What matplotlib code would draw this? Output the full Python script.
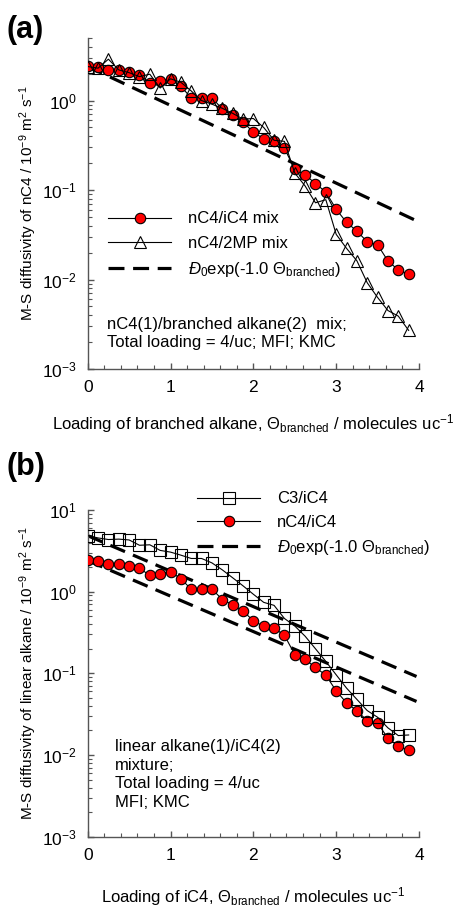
import numpy as np
import matplotlib
matplotlib.use('Agg')
import matplotlib.pyplot as plt
from matplotlib.ticker import LogLocator, NullFormatter, MultipleLocator, LogFormatterSciNotation

plt.rcParams['font.family'] = ['Liberation Sans', 'DejaVu Sans']
plt.rcParams['mathtext.fontset'] = 'custom'
plt.rcParams['mathtext.rm'] = 'Liberation Sans'
plt.rcParams['mathtext.it'] = 'Liberation Sans:italic'
plt.rcParams['mathtext.bf'] = 'Liberation Sans:bold'
plt.rcParams['axes.unicode_minus'] = False

# loading of branched alkane, molecules/uc
loading = [0.0, 0.125, 0.25, 0.375, 0.5, 0.625, 0.75, 0.875,
           1.0, 1.125, 1.25, 1.375, 1.5, 1.625, 1.75, 1.875,
           2.0, 2.125, 2.25, 2.375, 2.5, 2.625, 2.75, 2.875,
           3.0, 3.125, 3.25, 3.375, 3.5, 3.625, 3.75, 3.875]

# M-S diffusivity, 10^-9 m2/s
nC4_iC4 = [2.44, 2.35, 2.17, 2.18, 2.08, 1.94, 1.58, 1.66,
           1.76, 1.44, 1.07, 1.08, 1.08, 0.80, 0.69, 0.58,
           0.44, 0.376, 0.357, 0.293, 0.17, 0.148, 0.118, 0.095,
           0.061, 0.0435, 0.0348, 0.0264, 0.0245, 0.0161, 0.0128, 0.0114]
nC4_2MP = [2.4, 2.3, 2.9, 2.2, 2.05, 1.85, 1.97, 1.38,
           1.75, 1.6, 1.28, 1.0, 0.91, 0.82, 0.72, 0.62,
           0.63, 0.5, 0.36, 0.35, 0.155, 0.111, 0.072, 0.078,
           0.032, 0.0223, 0.0162, 0.0092, 0.0063, 0.0045, 0.0039, 0.0027]
C3_iC4 = [4.85, 4.55, 4.35, 4.4, 4.3, 3.7, 3.75, 3.2,
          3.05, 2.8, 2.55, 2.55, 2.25, 1.85, 1.48, 1.18,
          0.93, 0.74, 0.68, 0.47, 0.38, 0.285, 0.2, 0.14,
          0.096, 0.066, 0.048, 0.035, 0.029, 0.0215, 0.0173, 0.0176]

# zero-loading diffusivities for the exp(-1.0 theta) lines
D0_nC4 = 2.4
D0_C3 = 4.85
fit_x = np.array([0.0, 3.97])

dash_label = r'$\mathit{Đ}_{0}$exp(-1.0 Θ$_{\mathrm{branched}}$)'
ylab_units = r' / 10$^{-9}$ m$^{2}$ s$^{-1}$'
xlab_units = r'Θ$_{\mathrm{branched}}$ / molecules uc$^{-1}$'

fs = 12
spine_col = '#555555'


def style_axes(ax, ymin, ymax):
    ax.set_yscale('log')
    ax.set_xlim(0, 4)
    ax.set_ylim(ymin, ymax)
    for s in ['top', 'right']:
        ax.spines[s].set_visible(False)
    for s in ['left', 'bottom']:
        ax.spines[s].set_color(spine_col)
        ax.spines[s].set_linewidth(1.0)
    ax.xaxis.set_major_locator(MultipleLocator(1))
    ax.xaxis.set_minor_locator(MultipleLocator(0.2))
    ax.yaxis.set_major_locator(LogLocator(base=10))
    ax.yaxis.set_minor_locator(LogLocator(base=10, subs=np.arange(2, 10)))
    ax.yaxis.set_major_formatter(LogFormatterSciNotation())
    ax.yaxis.set_minor_formatter(NullFormatter())
    ax.tick_params(which='both', direction='in', color=spine_col, labelsize=12.5)
    ax.tick_params(which='major', length=4.5, width=1.0, pad=8)
    ax.tick_params(which='minor', length=3, width=0.8)


def dashed(ax, d0, label=None):
    ax.plot(fit_x, d0 * np.exp(-1.0 * fit_x), color='black', lw=2.3,
            dashes=(5, 2.7), label=label, zorder=2)


fig = plt.figure(figsize=(4.61, 9.09), dpi=100)

# ---------- (a) ----------
ax1 = fig.add_axes([87.7 / 461, 1 - 369 / 909, 331.3 / 461, 331 / 909])
style_axes(ax1, 1e-3, 5)
ax1.plot(loading, nC4_iC4, color='black', lw=0.8, marker='o', ms=7.5,
         mfc='red', mec='black', mew=0.8, label='nC4/iC4 mix', zorder=3)
ax1.plot(loading, nC4_2MP, color='black', lw=0.8, marker='^', ms=8.5,
         mfc='none', mec='black', mew=0.8, label='nC4/2MP mix', zorder=4)
dashed(ax1, D0_nC4, dash_label)
ax1.legend(loc='upper left', bbox_to_anchor=(0.061, 0.476), frameon=False,
           fontsize=fs, handlelength=3.8, handletextpad=1.0, borderpad=0,
           borderaxespad=0, labelspacing=0.55)
ax1.text(0.058, 0.107, 'nC4(1)/branched alkane(2)  mix;\nTotal loading = 4/uc; MFI; KMC',
         transform=ax1.transAxes, fontsize=fs, va='center', ha='left',
         linespacing=1.2)
ax1.set_ylabel('M-S diffusivity of nC4' + ylab_units, fontsize=11, labelpad=2)
ax1.set_xlabel('Loading of branched alkane, ' + xlab_units, fontsize=fs, labelpad=12)
fig.text(6 / 461, 1 - 30 / 909, '(a)', fontsize=22, fontweight='bold', va='center', ha='left')

# ---------- (b) ----------
ax2 = fig.add_axes([87.7 / 461, 1 - 836.7 / 909, 331.3 / 461, 326.7 / 909])
style_axes(ax2, 1e-3, 10)
ax2.plot(loading, C3_iC4, color='black', lw=0.8, marker='s', ms=8,
         mfc='none', mec='black', mew=0.8, label='C3/iC4', zorder=4)
ax2.plot(loading, nC4_iC4, color='black', lw=0.8, marker='o', ms=7.5,
         mfc='red', mec='black', mew=0.8, label='nC4/iC4', zorder=3)
dashed(ax2, D0_C3, dash_label)
dashed(ax2, D0_nC4)
ax2.legend(loc='upper left', bbox_to_anchor=(0.33, 1.057), frameon=False,
           fontsize=fs, handlelength=3.8, handletextpad=1.0, borderpad=0,
           borderaxespad=0, labelspacing=0.5)
ax2.text(0.082, 0.19, 'linear alkane(1)/iC4(2)\nmixture;\nTotal loading = 4/uc\nMFI; KMC',
         transform=ax2.transAxes, fontsize=fs, va='center', ha='left', linespacing=1.3)
ax2.set_ylabel('M-S diffusivity of linear alkane' + ylab_units, fontsize=11, labelpad=2)
ax2.set_xlabel('Loading of iC4, ' + xlab_units, fontsize=fs, labelpad=16)
fig.text(6 / 461, 1 - 467 / 909, '(b)', fontsize=22, fontweight='bold', va='center', ha='left')

plt.savefig('out.png', dpi=100)
